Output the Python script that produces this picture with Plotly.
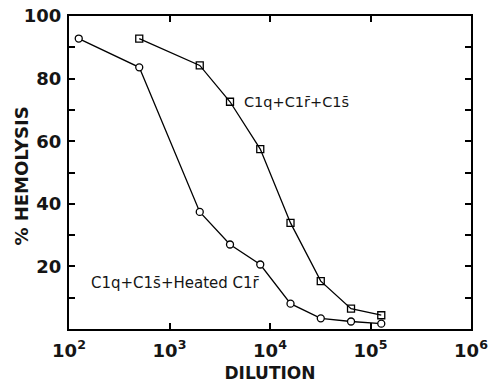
import plotly.graph_objects as go

# Data
dilution_sq = [500, 2000, 4000, 8000, 16000, 32000, 64000, 128000]
hemolysis_sq = [92.8, 84.2, 72.6, 57.5, 33.9, 15.3, 6.5, 4.4]

dilution_ci = [125, 500, 2000, 4000, 8000, 16000, 32000, 64000, 128000]
hemolysis_ci = [92.8, 83.6, 37.4, 27.0, 20.6, 8.1, 3.4, 2.4, 1.7]

x_tickvals = [1e2, 1e3, 1e4, 1e5, 1e6]
x_ticktext = ["10<sup>2</sup>", "10<sup>3</sup>", "10<sup>4</sup>", "10<sup>5</sup>", "10<sup>6</sup>"]
y_tickvals = [20, 40, 60, 80, 100]
y_ticktext = ["20", "40", "60", "80", "100"]
y_minor_vals = [10, 30, 50, 70, 90]

label_sq = "C1q+C1r\u0304+C1s\u0304"
label_ci = "C1q+C1s\u0304+Heated C1r\u0304"
x_title = "DILUTION"
y_title = "% HEMOLYSIS"

FONT = "DejaVu Sans"
TXT = "#151515"

fig = go.Figure()
fig.add_trace(go.Scatter(
    x=dilution_sq, y=hemolysis_sq, mode="lines+markers",
    line=dict(color="black", width=1.3),
    marker=dict(symbol="square-open", size=7, color="black", line=dict(width=1.3)),
    showlegend=False,
))
fig.add_trace(go.Scatter(
    x=dilution_ci, y=hemolysis_ci, mode="lines+markers",
    line=dict(color="black", width=1.3),
    marker=dict(symbol="circle", size=7, color="white", line=dict(width=1.3, color="black")),
    showlegend=False,
))

fig.add_annotation(x=3.72, y=72.6, xref="x", yref="y", text=label_sq, showarrow=False,
                   xanchor="left", yanchor="middle", font=dict(family=FONT, size=14.5, color=TXT))
fig.add_annotation(x=2.2, y=14.8, xref="x", yref="y", text=label_ci, showarrow=False,
                   xanchor="left", yanchor="middle", font=dict(family=FONT, size=15, color=TXT))
fig.add_annotation(x=-0.117, y=0.49, xref="paper", yref="paper", text=y_title, showarrow=False,
                   textangle=-90, xanchor="center", yanchor="middle",
                   font=dict(family=FONT, size=18, color=TXT, weight="bold"))

fig.update_layout(
    width=493, height=389,
    margin=dict(l=69, r=22, t=16, b=60, autoexpand=False),
    plot_bgcolor="white", paper_bgcolor="white",
    font=dict(family=FONT, color=TXT),
)
fig.update_xaxes(
    type="log", range=[2, 6], automargin=False,
    tickvals=x_tickvals, ticktext=x_ticktext,
    ticks="inside", ticklen=6, tickwidth=1.5, tickcolor="black",
    showline=True, linewidth=2, linecolor="black", mirror="ticks",
    showgrid=False, zeroline=False, ticklabelstandoff=4,
    tickfont=dict(family=FONT, size=18, color=TXT, weight="bold"),
    title=dict(text=x_title, font=dict(family=FONT, size=17, color=TXT, weight="bold"), standoff=8),
)
fig.update_yaxes(
    range=[0, 100], automargin=False,
    tickvals=y_tickvals, ticktext=y_ticktext,
    ticks="inside", ticklen=6, tickwidth=1.5, tickcolor="black",
    minor=dict(tickvals=y_minor_vals, ticks="inside", ticklen=6, tickwidth=1.5, tickcolor="black", showgrid=False),
    showline=True, linewidth=2, linecolor="black", mirror="ticks",
    showgrid=False, zeroline=False, ticklabelstandoff=2,
    tickfont=dict(family=FONT, size=18, color=TXT, weight="bold"),
)

fig.write_html("out.html")
